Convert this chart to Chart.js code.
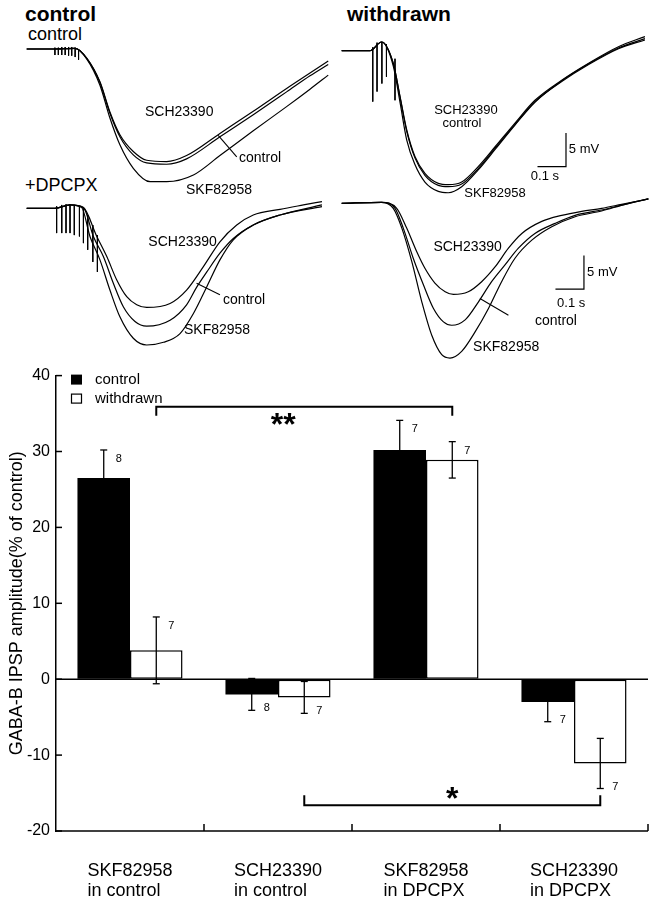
<!DOCTYPE html>
<html>
<head>
<meta charset="utf-8">
<script src="https://cdn.jsdelivr.net/npm/chart.js@4.4.1/dist/chart.umd.min.js"></script>
<style>
  body { margin: 0; background: #fff; }
  #wrap { position: relative; width: 652px; height: 900px; overflow: hidden; background: #fff;
          font-family: 'Liberation Sans', Arial, Helvetica, sans-serif; color: #000; }
  #wrap canvas { position: absolute; }
  .head { position: absolute; line-height: 1; white-space: nowrap; }
</style>
</head>
<body>
<div id="wrap">
  <div class="head" style="left:25px;top:3px;font-size:21px;font-weight:bold">control</div>
  <div class="head" style="left:347px;top:3px;font-size:21px;font-weight:bold">withdrawn</div>
  <div class="head" style="left:28px;top:25px;font-size:18px">control</div>
  <div class="head" style="left:25px;top:176px;font-size:18px">+DPCPX</div>
  <canvas id="trA" width="318" height="175" style="left:20px;top:25px"></canvas>
  <canvas id="trB" width="317" height="185" style="left:335px;top:25px"></canvas>
  <canvas id="trC" width="318" height="160" style="left:20px;top:195px"></canvas>
  <canvas id="trD" width="317" height="170" style="left:335px;top:195px"></canvas>
  <canvas id="bars" width="652" height="540" style="left:0;top:360px"></canvas>
</div>
<script>
const FONT = "'Liberation Sans', Arial, Helvetica, sans-serif";

// ---- IPSP traces: [time (ms), membrane potential (mV) relative to rest] ----
// control slice, control medium
const ctrlSCH = [[0,0],[94,0],[170,0.1],[211,-1.4],[257,-4.9],[292,-9.4],[327,-12.8],[374,-15.3],[421,-16.6],[491,-16.8],[561,-15.9],[678,-12.6],[795,-9.3],[912,-5.9],[994,-3.6],[1058,-1.8]];
const ctrlCTL = [[0,0],[94,0],[170,0.1],[211,-1.4],[257,-5.0],[292,-9.6],[327,-13.1],[374,-15.8],[421,-17.0],[491,-17.2],[561,-16.4],[678,-13.1],[795,-9.8],[912,-6.4],[994,-4.0],[1058,-2.3]];
const ctrlSKF = [[0,0],[94,0],[170,0.1],[211,-1.5],[257,-5.4],[292,-10.3],[327,-14.3],[374,-17.8],[433,-19.8],[491,-19.8],[585,-18.8],[678,-15.9],[795,-12.2],[912,-8.6],[994,-6.0],[1058,-3.9]];
const ctrlStimT   = [99, 111, 123, 135, 147, 158, 170, 182];
const ctrlStimTop = [0.2, 0.2, 0.3, 0.3, 0.3, 0.3, 0.2, 0];
const ctrlStimTip = [-0.9, -0.9, -0.9, -0.9, -1.0, -1.0, -1.2, -1.6];

// withdrawn slice, control medium
const wdSCH = [[0,0],[99,0],[140,1.3],[181,-1.9],[205,-6.9],[228,-11.8],[257,-15.8],[292,-18.3],[339,-19.8],[374,-20.0],[421,-19.6],[479,-17.3],[539,-14.3],[608,-10.8],[678,-7.4],[772,-4.4],[865,-1.9],[971,0.6],[1064,2.1]];
const wdCTL = [[0,0],[99,0],[140,1.3],[181,-1.9],[205,-7.0],[228,-12.0],[257,-16.0],[292,-18.6],[339,-20.1],[374,-20.3],[421,-19.9],[479,-17.6],[539,-14.5],[608,-11.0],[678,-7.6],[772,-4.6],[865,-2.1],[971,0.3],[1064,1.6]];
const wdSKF = [[0,0],[99,0],[140,1.3],[181,-2.3],[205,-7.8],[228,-13.3],[257,-17.0],[292,-19.6],[339,-21.0],[374,-21.2],[421,-20.3],[479,-17.8],[539,-14.7],[608,-11.1],[678,-7.7],[772,-4.5],[865,-2.0],[971,0.4],[1064,1.8]];
const wdStimT   = [109, 124, 141, 157, 187];
const wdStimTop = [0.5, 1.2, 1.3, 1.0, -1.2];
const wdStimTip = [-7.6, -6.1, -4.9, -3.9, -7.4];

// control slice, +DPCPX
const dpSCH = [[0,0],[99,0],[152,0.5],[199,0.1],[246,-4.2],[281,-7.2],[316,-10.7],[351,-13.2],[386,-14.4],[421,-14.8],[503,-14.2],[561,-12.2],[620,-8.7],[678,-5.0],[737,-2.5],[795,-1.0],[889,-0.15],[971,0.5],[1036,1.0]];
const dpCTL = [[0,0],[99,0],[152,0.5],[199,0.1],[234,-4.2],[269,-7.2],[304,-11.2],[339,-14.7],[380,-16.9],[421,-17.6],[503,-16.7],[561,-14.4],[596,-11.8],[632,-9.5],[678,-6.7],[725,-4.5],[795,-2.5],[889,-1.0],[1036,0.5]];
const dpSKF = [[0,0],[99,0],[152,0.5],[193,0.1],[222,-4.2],[257,-7.7],[292,-12.2],[327,-16.2],[374,-19.4],[421,-20.4],[480,-20.0],[538,-18.7],[585,-15.7],[632,-11.7],[678,-7.7],[725,-4.7],[795,-2.5],[889,-1.0],[1036,0.25]];
const dpStimT   = [105, 123, 138, 152, 167, 185, 199, 214, 232, 248];
const dpStimTop = [0.3, 0.5, 0.6, 0.6, 0.5, 0.3, 0, -1, -2.5, -4];
const dpStimTip = [-3.7, -3.7, -3.7, -3.7, -4.0, -4.2, -5.2, -6.2, -8.0, -9.5];

// withdrawn slice, +DPCPX
const wdpSCH = [[0,0],[140,0.15],[193,-0.75],[228,-3.7],[263,-7.2],[292,-9.7],[327,-11.9],[363,-13.2],[392,-13.6],[444,-13.2],[491,-11.7],[538,-9.5],[585,-6.7],[632,-4.5],[702,-2.7],[772,-1.8],[842,-1.2],[912,-0.75],[982,-0.15],[1076,0.65]];
const wdpCTL = [[0,0],[140,0.15],[187,-0.75],[216,-3.7],[251,-8.2],[287,-12.2],[322,-15.7],[357,-17.7],[386,-18.2],[433,-17.4],[480,-14.7],[526,-11.7],[573,-9.2],[620,-6.7],[678,-4.5],[749,-3.0],[819,-1.8],[912,-1.0],[994,-0.15],[1076,0.65]];
const wdpSKF = [[0,0],[140,0.15],[181,-0.75],[211,-3.7],[246,-8.7],[281,-14.7],[316,-19.7],[351,-22.6],[380,-23.1],[421,-22.1],[468,-19.2],[515,-15.7],[561,-11.7],[608,-8.2],[667,-5.5],[737,-3.5],[819,-2.0],[912,-1.15],[994,-0.15],[1076,0.65]];

// ---- bar chart ----
const categories = [['SKF82958', 'in control'], ['SCH23390', 'in control'], ['SKF82958', 'in DPCPX'], ['SCH23390', 'in DPCPX']];
const controlMean   = [26.5, -2.0, 30.2, -3.0];
const controlSem    = [3.7, 2.1, 3.9, 2.6];
const controlN      = [8, 8, 7, 7];
const withdrawnMean = [3.8, -2.4, 28.9, -11.1];
const withdrawnSem  = [4.4, 2.1, 2.4, 3.3];
const withdrawnN    = [7, 7, 7, 7];
const yTicks = [-20, -10, 0, 10, 20, 30, 40];

// significance brackets between withdrawn bars
const sigMark = ['**', '*'];
const sigFrom = [0, 1];
const sigTo   = [2, 3];
const sigY    = [35.9, -16.6];
const sigTipY = [34.7, -15.3];

const PX_PER_MS = 0.285;   // 0.1 s scale bar ~28.5 px
const PX_PER_MV = 6.7;     // 5 mV scale bar ~33.5 px

function toXY(tr) {
    return tr.map(p => ({ x: p[0], y: p[1] }));
}

function stimPoints(t, top, tip) {
    const pts = [];
    t.forEach((x, i) => {
        pts.push({ x: x, y: top[i] }, { x: x, y: tip[i] }, { x: x, y: null });
    });
    return pts;
}

function tracePanel(id, ox, oy, traces, stim, notes) {
    const canvas = document.getElementById(id);
    const w = canvas.width, h = canvas.height;

    const datasets = traces.map(tr => ({
        data: toXY(tr),
        borderColor: '#000',
        borderWidth: 1.2,
        pointRadius: 0,
        cubicInterpolationMode: 'monotone',
        fill: false
    }));
    if (stim) {
        datasets.push({ data: stimPoints(stim[0], stim[1], stim[2]), borderColor: '#000', borderWidth: 1,
                        pointRadius: 0, tension: 0, spanGaps: false, fill: false });
    }
    if (notes.bar) {
        const [tc, vc] = notes.bar;
        datasets.push({ data: [{ x: tc - 100, y: vc }, { x: tc, y: vc }, { x: tc, y: vc + 5 }],
                        borderColor: '#000', borderWidth: 1.2, pointRadius: 0, tension: 0, fill: false });
    }

    const labelsPlugin = {
        id: 'traceLabels',
        afterDatasetsDraw(chart) {
            const { ctx, scales: { x, y } } = chart;
            ctx.save();
            ctx.strokeStyle = '#000';
            ctx.fillStyle = '#000';
            ctx.lineWidth = 1.1;
            (notes.leaders || []).forEach(l => {
                ctx.beginPath();
                ctx.moveTo(x.getPixelForValue(l[0]), y.getPixelForValue(l[1]));
                ctx.lineTo(x.getPixelForValue(l[2]), y.getPixelForValue(l[3]));
                ctx.stroke();
            });
            ctx.textBaseline = 'middle';
            (notes.texts || []).forEach(tx => {
                ctx.font = (tx[4] || 14) + 'px ' + FONT;
                ctx.textAlign = tx[3] || 'center';
                ctx.fillText(tx[0], x.getPixelForValue(tx[1]), y.getPixelForValue(tx[2]));
            });
            ctx.restore();
        }
    };

    new Chart(canvas, {
        type: 'line',
        data: { datasets: datasets },
        options: {
            responsive: false,
            animation: false,
            events: [],
            layout: { padding: 0 },
            plugins: { legend: { display: false }, tooltip: { enabled: false } },
            scales: {
                x: { type: 'linear', display: false, min: -ox / PX_PER_MS, max: (w - ox) / PX_PER_MS },
                y: { type: 'linear', display: false, min: -(h - oy) / PX_PER_MV, max: oy / PX_PER_MV }
            }
        },
        plugins: [labelsPlugin]
    });
}

tracePanel('trA', 6.7, 24, [ctrlSCH, ctrlCTL, ctrlSKF], [ctrlStimT, ctrlStimTop, ctrlStimTip], {
    texts: [['SCH23390', 535, -9.4], ['control', 745, -16.3, 'left'], ['SKF82958', 675, -21.0]],
    leaders: [[737, -16.1, 672, -12.9]]
});
tracePanel('trB', 6.7, 25.7, [wdSCH, wdCTL, wdSKF], [wdStimT, wdStimTop, wdStimTip], {
    texts: [['SCH23390', 436, -8.85, 'center', 13], ['control', 422, -10.8, 'center', 13],
            ['SKF82958', 538, -21.3, 'center', 13], ['5 mV', 797, -14.7, 'left', 13], ['0.1 s', 713, -18.7, 'center', 13]],
    bar: [787, -17.3]
});
tracePanel('trC', 6.7, 13.3, [dpSCH, dpCTL, dpSKF], [dpStimT, dpStimTop, dpStimTip], {
    texts: [['SCH23390', 547, -5.0], ['control', 689, -13.7, 'left'], ['SKF82958', 668, -18.2]],
    leaders: [[678, -12.9, 596, -11.2]]
});
tracePanel('trD', 6.7, 8.3, [wdpSCH, wdpCTL, wdpSKF], null, {
    texts: [['SCH23390', 562, -6.5, 'right'], ['control', 678, -17.6, 'left'], ['SKF82958', 461, -21.4, 'left'],
            ['5 mV', 861, -10.25, 'left', 13], ['0.1 s', 805, -14.95, 'center', 13]],
    leaders: [[585, -16.7, 485, -14.2]],
    bar: [850, -12.8]
});

// extras drawn on top of the bars: axes ticks, error bars, n, brackets, legend, category labels
const barExtras = {
    id: 'barExtras',
    afterDatasetsDraw(chart) {
        const { ctx, chartArea: a, scales: { x, y } } = chart;
        const line = (x1, y1, x2, y2) => { ctx.beginPath(); ctx.moveTo(x1, y1); ctx.lineTo(x2, y2); ctx.stroke(); };
        ctx.save();
        ctx.strokeStyle = '#000';
        ctx.fillStyle = '#000';
        ctx.lineWidth = 1.5;

        const y0 = y.getPixelForValue(0);
        line(a.left, y0, a.right, y0);
        line(a.left, a.bottom, a.right, a.bottom);

        const catW = x.getPixelForValue(1) - x.getPixelForValue(0);
        for (let i = 1; i <= categories.length; i++) {
            const bx = x.getPixelForValue(i) - catW / 2;
            line(bx, a.bottom, bx, a.bottom - 7);
        }
        yTicks.forEach(v => {
            const py = y.getPixelForValue(v);
            line(a.left, py, a.left + 6, py);
        });

        // error bars + n
        const groups = [[controlMean, controlSem, controlN], [withdrawnMean, withdrawnSem, withdrawnN]];
        ctx.lineWidth = 1.3;
        ctx.font = '11px ' + FONT;
        ctx.textAlign = 'center';
        ctx.textBaseline = 'middle';
        groups.forEach((g, di) => {
            const meta = chart.getDatasetMeta(di);
            g[0].forEach((m, j) => {
                const bx = meta.data[j].x;
                const hi = y.getPixelForValue(m + g[1][j]);
                const lo = y.getPixelForValue(m - g[1][j]);
                line(bx, hi, bx, lo);
                line(bx - 3.5, hi, bx + 3.5, hi);
                line(bx - 3.5, lo, bx + 3.5, lo);
                const ny = m >= 0 ? hi + 9 : lo - 2;
                ctx.fillText(String(g[2][j]), bx + 15, ny);
            });
        });

        // significance brackets
        const wd = chart.getDatasetMeta(1);
        ctx.lineWidth = 2;
        sigMark.forEach((mark, k) => {
            const x1 = wd.data[sigFrom[k]].x, x2 = wd.data[sigTo[k]].x;
            const py = y.getPixelForValue(sigY[k]), pt = y.getPixelForValue(sigTipY[k]);
            ctx.beginPath();
            ctx.moveTo(x1, pt); ctx.lineTo(x1, py); ctx.lineTo(x2, py); ctx.lineTo(x2, pt);
            ctx.stroke();
            ctx.font = 'bold 32px ' + FONT;
            ctx.textBaseline = 'alphabetic';
            const below = sigY[k] > 0;
            const cx = (x1 + x2) / 2 + (mark.length > 1 ? -21 : 0);
            const cy = below ? py + 12 : py - 12;
            ctx.fillText(mark, cx, cy + 16);
        });

        // legend
        ctx.lineWidth = 1.2;
        ctx.font = '15px ' + FONT;
        ctx.textAlign = 'left';
        ctx.textBaseline = 'middle';
        chart.data.datasets.forEach((ds, i) => {
            const ly = a.top + 4 + i * 19;
            ctx.fillStyle = ds.backgroundColor;
            ctx.fillRect(a.left + 15, ly - 5, 11, 10);
            if (ds.borderWidth) ctx.strokeRect(a.left + 15.5, ly - 4.5, 10, 9);
            ctx.fillStyle = '#000';
            ctx.fillText(ds.label, a.left + 39, ly);
        });

        // category labels, lines left-aligned under one another
        ctx.font = '18px ' + FONT;
        ctx.textBaseline = 'alphabetic';
        categories.forEach((lines, i) => {
            const cx = x.getPixelForValue(i);
            const lx = cx - ctx.measureText(lines[0]).width / 2;
            ctx.fillText(lines[0], lx, a.bottom + 45);
            ctx.fillText(lines[1], lx, a.bottom + 64.5);
        });
        ctx.restore();
    }
};

new Chart(document.getElementById('bars'), {
    type: 'bar',
    data: {
        labels: categories,
        datasets: [
            { label: 'control', data: controlMean, backgroundColor: '#000', borderWidth: 0,
              categoryPercentage: 0.71, barPercentage: 1.0 },
            { label: 'withdrawn', data: withdrawnMean, backgroundColor: '#fff', borderColor: '#000',
              borderWidth: 1.5, borderSkipped: false, categoryPercentage: 0.71, barPercentage: 1.0 }
        ]
    },
    options: {
        responsive: false,
        animation: false,
        events: [],
        layout: { padding: { left: 0, right: 4, top: 11, bottom: 69 } },
        plugins: { legend: { display: false }, tooltip: { enabled: false } },
        scales: {
            x: { display: false },
            y: {
                min: -20, max: 40,
                ticks: { stepSize: 10, color: '#000', padding: 6, font: { family: FONT, size: 16 } },
                grid: { drawOnChartArea: false, drawTicks: false },
                border: { display: true, color: '#000', width: 1.5 },
                title: { display: true, text: 'GABA-B IPSP amplitude(% of control)', color: '#000',
                         font: { family: FONT, size: 18 }, padding: { top: 6, bottom: 0 } },
                afterFit(scale) { scale.width = 56; }
            }
        }
    },
    plugins: [barExtras]
});
</script>
</body>
</html>
